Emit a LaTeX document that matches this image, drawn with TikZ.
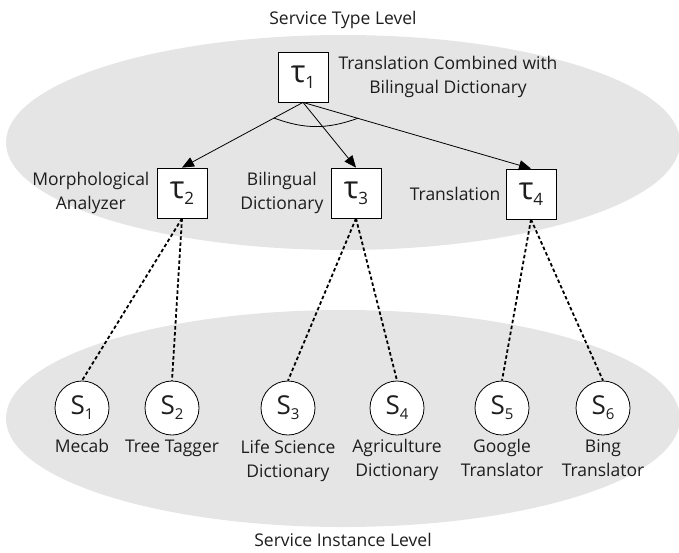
\documentclass[tikz,border=0pt]{standalone}
\usepackage{fontspec}
\setmainfont{Open Sans}
\usepackage{xcolor}
\definecolor{levelgray}{RGB}{229, 229, 229}
\definecolor{textgray}{RGB}{30, 30, 30}
\usetikzlibrary{shapes, arrows.meta, positioning, calc}

\newcommand{\tsym}[1]{{\fontsize{31}{31}\selectfont τ}\raisebox{-6pt}{\fontsize{17}{17}\selectfont #1}}
\newcommand{\ssym}[1]{{\fontsize{26}{26}\selectfont S}\raisebox{-5pt}{\fontsize{15}{15}\selectfont #1}}

\begin{document}
\begin{tikzpicture}[x=1pt, y=-1pt,
    every node/.style={font=\fontsize{17.5}{24}\selectfont, text=textgray},
    typebox/.style={draw, fill=white, line width=0.8pt, minimum width=50pt,
      minimum height=50pt, inner sep=0pt},
    instcircle/.style={draw, circle, fill=white, line width=0.8pt,
      minimum size=54pt, inner sep=0pt},
    lbl/.style={align=center, inner sep=2pt},
    arr/.style={line width=0.8pt, -{Triangle[length=12pt, width=10pt]}},
    dots/.style={line width=1.8pt, dash pattern=on 3.5pt off 2.5pt}]
  \useasboundingbox (0,0) rectangle (679,552);

  % the two levels
  \fill[levelgray] (343,142.5) ellipse [x radius=337pt, y radius=107.5pt];
  \fill[levelgray] (343,418.5) ellipse [x radius=337pt, y radius=108.5pt];
  \node (typelevel) at (343,20) {Service Type Level};
  \node (instlevel) at (343,540) {Service Instance Level};

  % service types
  \node[typebox] (t1) at (303,77) {\tsym{1}};
  \node[typebox] (t2) at (182,193) {\tsym{2}};
  \node[typebox] (t3) at (356,193) {\tsym{3}};
  \node[typebox] (t4) at (531,194) {\tsym{4}};
  \node[lbl, right=8pt of t1] (t1lbl) {Translation Combined with\\Bilingual Dictionary};
  \node[lbl, left=5pt of t2] (t2lbl) {Morphological\\Analyzer};
  \node[lbl, left=5pt of t3] (t3lbl) {Bilingual\\Dictionary};
  \node[lbl, left=3pt of t4] (t4lbl) {Translation};

  \draw[arr] (t1.south) -- (t2.north);
  \draw[arr] (t1.south) -- (t3.north);
  \draw[arr] (t1.south) -- (t4.north);
  \draw[line width=0.8pt] ($(t1.south)!0.24!(t2.north)$) to[bend right=20] ($(t1.south)!0.24!(t4.north)$);

  % service instances
  \node[instcircle] (s1) at (82,408) {\ssym{1}};
  \node[instcircle] (s2) at (172,408) {\ssym{2}};
  \node[instcircle] (s3) at (288,408) {\ssym{3}};
  \node[instcircle] (s4) at (397,408) {\ssym{4}};
  \node[instcircle] (s5) at (502,408) {\ssym{5}};
  \node[instcircle] (s6) at (603,408) {\ssym{6}};
  \node[lbl, below=2pt of s1] (s1lbl) {Mecab};
  \node[lbl, below=2pt of s2] (s2lbl) {Tree Tagger};
  \node[lbl, below=2pt of s3] (s3lbl) {Life Science\\Dictionary};
  \node[lbl, below=2pt of s4] (s4lbl) {Agriculture\\Dictionary};
  \node[lbl, below=2pt of s5] (s5lbl) {Google\\Translator};
  \node[lbl, below=2pt of s6] (s6lbl) {Bing\\Translator};

  \draw[dots] (t2.south) -- (s1.north);
  \draw[dots] (t2.south) -- (s2.north);
  \draw[dots] (t3.south) -- (s3.north);
  \draw[dots] (t3.south) -- (s4.north);
  \draw[dots] (t4.south) -- (s5.north);
  \draw[dots] (t4.south) -- (s6.north);
\end{tikzpicture}
\end{document}
